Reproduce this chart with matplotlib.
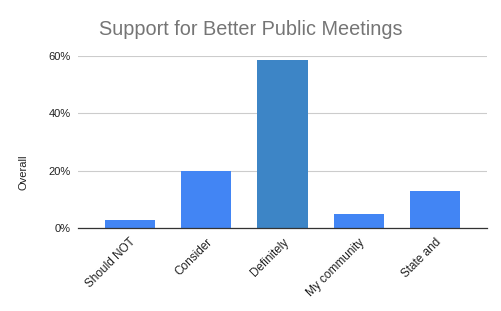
import matplotlib.pyplot as plt
from matplotlib.ticker import PercentFormatter

categories = ["Should NOT", "Consider", "Definitely", "My community", "State and"]
overall = [0.028, 0.20, 0.586, 0.05, 0.13]
bar_colors = ["#4285f4", "#4285f4", "#3d85c6", "#4285f4", "#4285f4"]
yticks = [0.0, 0.2, 0.4, 0.6]

plt.rcParams["font.family"] = ["Liberation Sans", "DejaVu Sans"]

fig = plt.figure(figsize=(5.02, 3.11), dpi=100)
ax = fig.add_axes([0.155, 0.267, 0.815, 0.553])

x = range(len(categories))
ax.bar(x, overall, width=0.66, color=bar_colors, zorder=3)

ax.set_xlim(-0.68, len(categories) - 1 + 0.68)
ax.set_ylim(0, 0.6)
ax.set_yticks(yticks)
ax.yaxis.set_major_formatter(PercentFormatter(1.0, decimals=0))
ax.grid(axis="y", color="#cccccc", linewidth=0.8, zorder=0)
ax.set_xticks(list(x))
ax.set_xticklabels(categories, rotation=45, ha="right", rotation_mode="anchor",
                   fontsize=8.5, color="#222222")
ax.tick_params(axis="both", length=0, labelcolor="#222222")
ax.tick_params(axis="x", pad=6)
ax.tick_params(axis="y", pad=5, labelsize=8)

for side in ["top", "right", "left"]:
    ax.spines[side].set_visible(False)
ax.spines["bottom"].set_color("#333333")
ax.spines["bottom"].set_linewidth(0.9)
ax.spines["bottom"].set_zorder(4)

ax.set_ylabel("Overall", fontsize=8, color="#222222")
ax.yaxis.set_label_coords(-0.12, 0.326)
fig.text(0.5, 0.905, "Support for Better Public Meetings", ha="center", va="center",
         fontsize=14.3, color="#757575")

fig.savefig("out.png", dpi=100)
